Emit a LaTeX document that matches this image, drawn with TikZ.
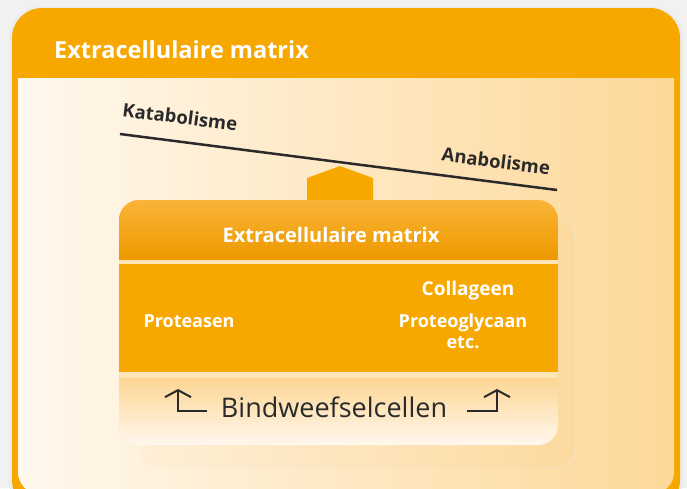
\documentclass[tikz,border=0pt]{standalone}
\usepackage{fontspec}
\setmainfont{Open Sans}
\usetikzlibrary{arrows.meta}
\definecolor{bggray}{HTML}{F1F1F1}
\definecolor{orng}{HTML}{F7A800}
\definecolor{orngtop}{HTML}{F9B437}
\definecolor{orngbot}{HTML}{EE9900}
\definecolor{creamL}{HTML}{FFF8EE}
\definecolor{creamR}{HTML}{FDD898}
\definecolor{bodyc}{HTML}{FDE4B4}
\definecolor{bandtop}{HTML}{FDD593}
\definecolor{bandbot}{HTML}{FFF8EE}
\definecolor{ink}{HTML}{2A2A2A}
\tikzset{
  whitebold/.style={text=white,font=\bfseries\fontsize{18}{20}\selectfont,inner sep=0pt},
  sidelabel/.style={text=ink,font=\fontsize{18.5}{21}\selectfont\bfseries,inner sep=0pt},
  bentarrow/.style={draw=ink,line width=2pt,-{Straight Barb[length=7pt,width=26pt,line width=2pt]}}
}
\begin{document}
\begin{tikzpicture}[x=1pt,y=-1pt]
\useasboundingbox (0,0) rectangle (687,488);
\begin{scope}
\clip (0,0) rectangle (687,488);
\fill[bggray] (0,0) rectangle (687,488);
% outer card
\fill[black!8,rounded corners=30pt] (9,7) rectangle (683,512);
\fill[orng,rounded corners=30pt] (12,8) rectangle (680,510);
\begin{scope}
\clip (0,78) rectangle (687,488);
\shade[left color=creamL,right color=creamR,rounded corners=22pt] (18,50) rectangle (674,494);
\end{scope}
\node[anchor=west,text=white,font=\bfseries\fontsize{23.5}{26}\selectfont,inner sep=0pt] (title) at (54,50) {Extracellulaire matrix};
% balance
\coordinate (bl) at (120,134);
\coordinate (br) at (557,190);
\draw[ink,line width=2.5pt] (bl) -- (br);
\node[sidelabel,rotate=-7.3] (katab) at (180,117) {Katabolisme};
\node[sidelabel,rotate=-7.3] (anab) at (496,161) {Anabolisme};
\fill[orng] (307,178) -- (340,166) -- (373,178) -- (373,203) -- (307,203) -- cycle;
% inner box shadow
\draw[black!8,fill=orngbot,fill opacity=0.03,rounded corners=20pt] (140,218) rectangle (575,468);
% inner box
\fill[bodyc,rounded corners=20pt] (119,200) rectangle (558,445);
\begin{scope}
\clip[rounded corners=20pt] (119,200) rectangle (558,445);
\shade[top color=orngtop,bottom color=orngbot] (119,200) rectangle (558,259);
\fill[orng] (119,264) rectangle (558,372);
\shade[top color=bandtop,bottom color=bandbot] (119,378) rectangle (558,445);
\end{scope}
\node[whitebold,font=\bfseries\fontsize{20}{22}\selectfont] (hdr) at (331,235) {Extracellulaire matrix};
\node[whitebold] (prot) at (189,321) {Proteasen};
\node[whitebold,font=\bfseries\fontsize{19}{21}\selectfont] (coll) at (468,291) {Collageen};
\node[whitebold,align=center,font=\bfseries\fontsize{18}{21}\selectfont] (pgly) at (463,331) {Proteoglycaan\\etc.};
\node[text=ink,font=\fontsize{27}{30}\selectfont,inner sep=0pt] (cells) at (334,407) {Bindweefselcellen};
% bent arrows
\coordinate (la0) at (207,411);
\coordinate (la1) at (178,411);
\coordinate (la2) at (178,389);
\coordinate (ra0) at (467,411);
\coordinate (ra1) at (497,411);
\coordinate (ra2) at (497,389);
\draw[bentarrow] (la0) -- (la1) -- (la2);
\draw[bentarrow] (ra0) -- (ra1) -- (ra2);
\end{scope}
\end{tikzpicture}
\end{document}
